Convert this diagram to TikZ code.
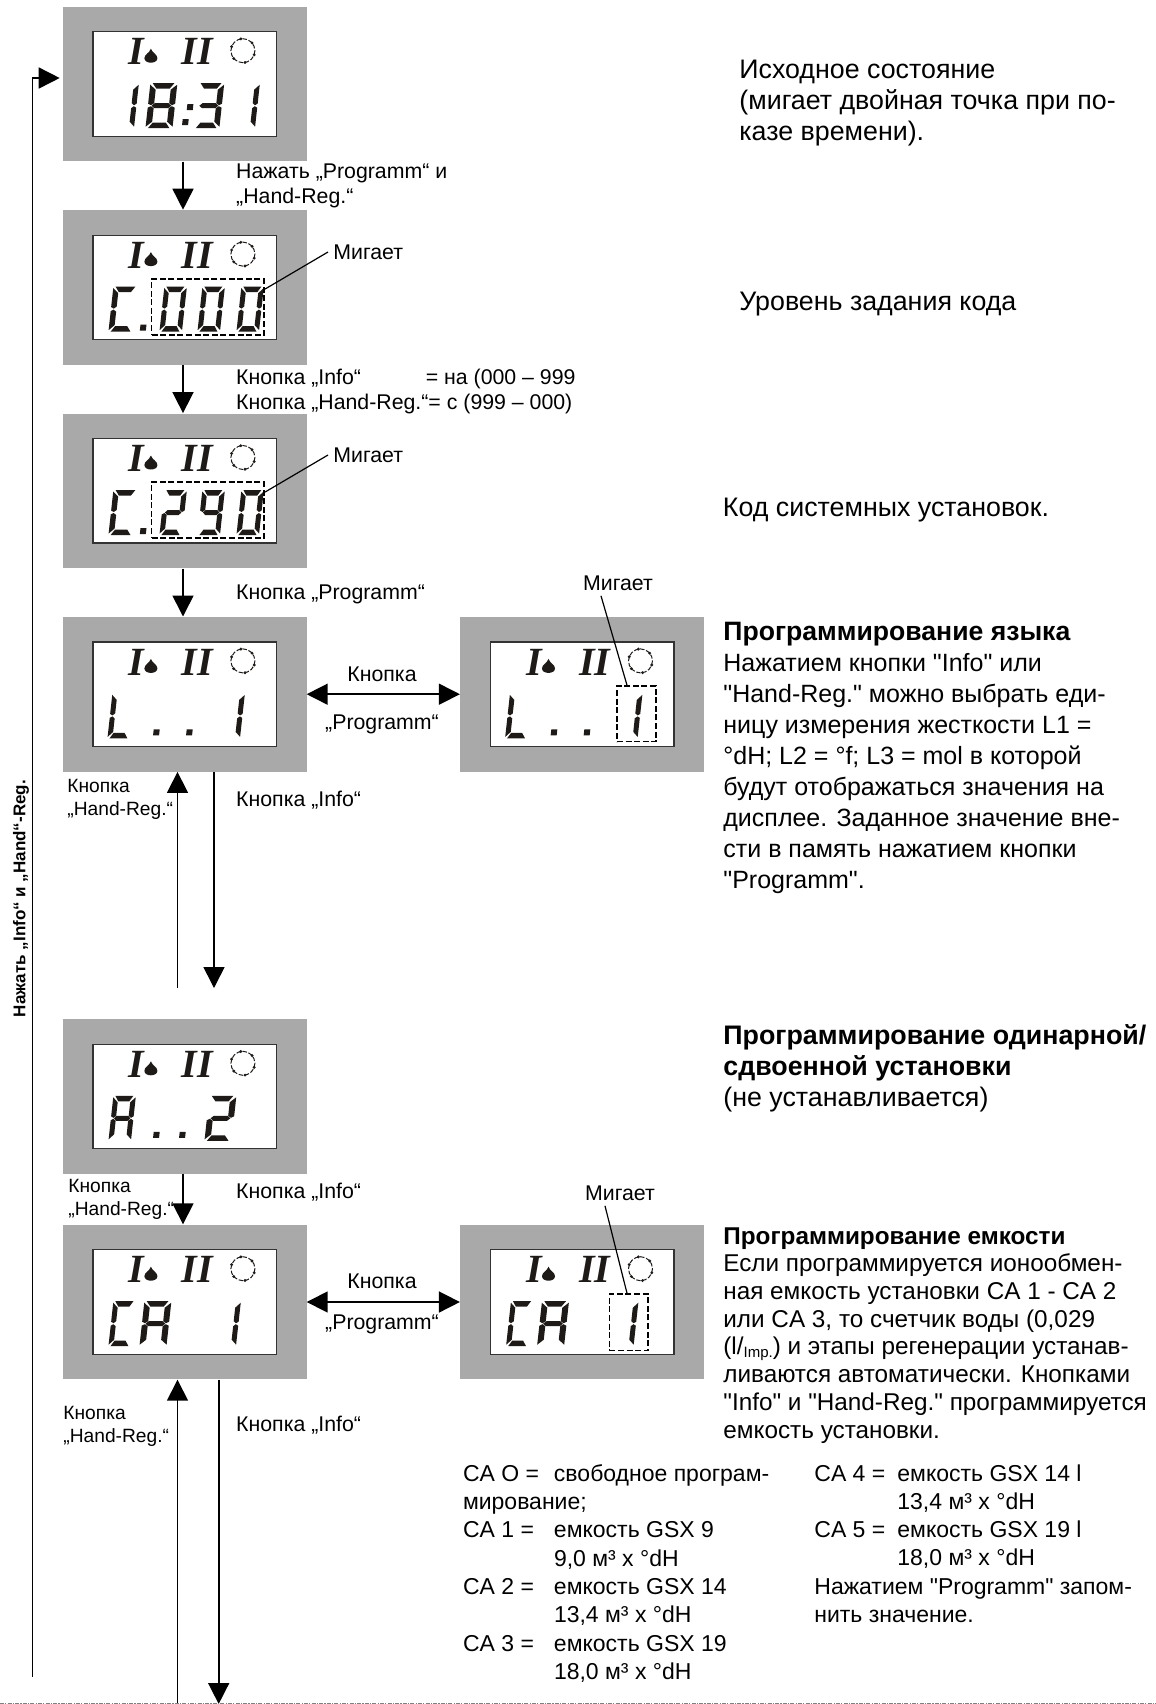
\documentclass[tikz,border=0pt]{standalone}
\usepackage{fontspec}
\newfontfamily\plainsans{Liberation Sans}[Ligatures=Common]
\newfontfamily\lcdserif{Liberation Serif}
\usepackage{tikz}
\usetikzlibrary{positioning, arrows.meta, calc}

\definecolor{panelgray}{HTML}{A9A9A9}
\definecolor{lcdink}{HTML}{1E1A18}

\tikzset{
    sega/.pic={\fill (2,0) -- (20,0) -- (16.5,5.5) -- (5.5,5.5) -- cycle;},
    segb/.pic={\fill (22.5,1.5) -- (22.5,20.5) -- (20,22) -- (17.5,20) -- (17.5,6.5) -- cycle;},
    segc/.pic={\fill (22.5,24.5) -- (22.5,43.5) -- (17.5,38.5) -- (17.5,25) -- (20,23) -- cycle;},
    segd/.pic={\fill (5.5,39.5) -- (16.5,39.5) -- (20,45) -- (2,45) -- cycle;},
    sege/.pic={\fill (0,24.5) -- (2.5,23) -- (5,25) -- (5,38.5) -- (0,43.5) -- cycle;},
    segf/.pic={\fill (0,1.5) -- (5,6.5) -- (5,20) -- (2.5,22) -- (0,20.5) -- cycle;},
    segg/.pic={\fill (3,22.5) -- (5.5,20) -- (17,20) -- (19.5,22.5) -- (17,25) -- (5.5,25) -- cycle;},
}

% one digit of the display: x inside the screen, then its segments
\newcommand{\lcddigit}[3][]{%
  \begin{scope}[shift={(#2,52)}, xslant=0.11, fill=lcdink, #1]
    \foreach \s in {#3} {\pic[transform shape] {seg\s};}
  \end{scope}}
\newcommand{\lcddot}[2]{\fill[lcdink, xslant=0.11] (#1,#2) rectangle ++(6,6);}
% panel contents that are the same everywhere
\newcommand{\lcdicons}{%
  \node[iconlabel] at (44,20.5) {I};
  \fill[lcdink] (58.5,17.5) .. controls (60,22) and (65,23) .. (65,27) .. controls (65,33) and (52,33) .. (52,27) .. controls (52,23) and (57,22) .. (58.5,17.5) -- cycle;
  \node[iconlabel] at (105,20.5) {II};
  \draw[lcdink, line width=0.5pt, dash pattern=on 2.2pt off 0.9pt] (150.5,19.5) circle (12);
  \foreach \a in {20,80,140,200,260,320} {\fill[lcdink] (150.5,19.5) ++(\a:12) circle (1.6);}
}

\begin{document}
\begin{tikzpicture}[
    x=0.5pt, y=-0.5pt,
    panel/.style={rectangle, fill=panelgray, minimum width=122pt, minimum height=77.3pt, inner sep=0},
    screen/.style={rectangle, draw=black!80, line width=0.6pt, fill=white, minimum width=91.7pt, minimum height=52.2pt, inner sep=0},
    blinkbox/.style={rectangle, draw, line width=0.8pt, dash pattern=on 3pt off 1.3pt, inner sep=0},
    iconlabel/.style={font=\lcdserif\bfseries\itshape\fontsize{20}{20}\selectfont, text=lcdink, inner sep=0},
    arrow/.style={-{Triangle[length=10.5pt, width=10.5pt]}, line width=0.8pt},
    dblarrow/.style={{Triangle[length=10.5pt, width=10.5pt]}-{Triangle[length=10.5pt, width=10.5pt]}, line width=0.8pt},
    callout/.style={line width=0.6pt},
    hint/.style={font=\plainsans\fontsize{10.65}{12.5}\selectfont, align=left, inner sep=0, anchor=west},
    tinyhint/.style={font=\plainsans\fontsize{9.6}{11.6}\selectfont, align=left, inner sep=0, anchor=north west},
    blinklabel/.style={font=\plainsans\fontsize{10.65}{12.5}\selectfont, inner sep=2.5pt},
    bigtext/.style={font=\plainsans\fontsize{13.4}{15.5}\selectfont, align=left, inner sep=0, anchor=north west},
    bodytext/.style={font=\plainsans\fontsize{12.5}{15.5}\selectfont, align=left, inner sep=0, anchor=north west},
    midtext/.style={font=\plainsans\fontsize{12.15}{13.85}\selectfont, align=left, inner sep=0, anchor=north west},
    listtext/.style={font=\plainsans\fontsize{11.5}{14.15}\selectfont, align=left, inner sep=0, anchor=north west}
]
\useasboundingbox (0,0) rectangle (1156,1704);

% left column
\node[panel] (p1) at (184.7,84) {};
\node[panel, below=24pt of p1] (p2) {};
\node[panel, below=24pt of p2] (p3) {};
\node[panel, below=24pt of p3] (p4) {};
\node[panel, below=123.5pt of p4] (p5) {};
\node[panel, below=25pt of p5] (p6) {};
\node[panel, right=76.4pt of p4] (p4b) {};
\node[panel, right=76.4pt of p6] (p6b) {};
\foreach \p in {p1,p2,p3,p4,p5,p6,p4b,p6b} {\node[screen] (\p s) at (\p) {};}

% displays
\begin{scope}[shift={(p1s.north west)}]
  \lcdicons
  \lcddigit{24}{b,c}
  \lcddigit[xscale=1.2]{58}{a,b,c,d,e,f,g}
  \lcddot{103}{73}
  \lcddot{100}{88}
  \lcddigit[xscale=1.15]{106}{a,b,c,d,g}
  \lcddigit{145}{b,c}
\end{scope}
\begin{scope}[shift={(p2s.north west)}]
  \lcdicons
  \lcddigit[xscale=1.1]{21}{a,d,e,f}
  \lcddot{58}{90}
  \lcddigit{72}{a,b,c,d,e,f}
  \lcddigit{110}{a,b,c,d,e,f}
  \lcddigit{149}{a,b,c,d,e,f}
\end{scope}
\begin{scope}[shift={(p3s.north west)}]
  \lcdicons
  \lcddigit[xscale=1.1]{21}{a,d,e,f}
  \lcddot{58}{90}
  \lcddigit{72}{a,b,d,e,g}
  \lcddigit{110}{a,b,c,d,f,g}
  \lcddigit{149}{a,b,c,d,e,f}
\end{scope}
\foreach \p in {p4,p4b} {
  \begin{scope}[shift={(\p s.north west)}]
    \lcdicons
    \lcddigit{20}{d,e,f}
    \lcddot{71}{88}
    \lcddot{104}{88}
    \lcddigit{130}{b,c}
  \end{scope}
}
\begin{scope}[shift={(p5s.north west)}]
  \lcdicons
  \lcddigit{21}{a,b,c,e,f,g}
  \lcddot{71}{88}
  \lcddot{97}{88}
  \lcddigit[xscale=1.2]{117}{a,b,d,e,g}
\end{scope}
\foreach \p in {p6,p6b} {
  \begin{scope}[shift={(\p s.north west)}]
    \lcdicons
    \lcddigit{21}{a,d,e,f}
    \lcddigit[xscale=1.2]{52}{a,b,c,e,f,g}
    \lcddigit{126}{b,c}
  \end{scope}
}

% flashing parts
\node[blinkbox, minimum width=56.2pt, minimum height=28pt] (b2) at (207.8,307) {};
\node[blinkbox, minimum width=56.2pt, minimum height=28pt] (b3) at (207.8,510) {};
\node[blinkbox, minimum width=19.5pt, minimum height=27.8pt] (b4) at (636.5,713.8) {};
\node[blinkbox, minimum width=19.3pt, minimum height=28.3pt] (b6) at (628.7,1322.3) {};
\node[blinklabel, anchor=west] (m2) at (328,252) {Мигает};
\node[blinklabel, anchor=west] (m3) at (328,455) {Мигает};
\node[blinklabel] (m4) at (618,583) {Мигает};
\node[blinklabel] (m6) at (620,1193) {Мигает};
\draw[callout] ([yshift=-5.5pt]b2.north east) -- (m2.west);
\draw[callout] ([yshift=-5.5pt]b3.north east) -- (m3.west);
\draw[callout] ([xshift=-8.5pt]m4.south) -- ([xshift=-4.75pt]b4.north);
\draw[callout] ([xshift=-7.5pt]m6.south) -- ([xshift=-0.85pt]b6.north);

% connectors
\draw[arrow] ([xshift=-0.85pt]p1.south) -- ([xshift=-0.85pt]p2.north);
\draw[arrow] ([xshift=-0.85pt]p2.south) -- ([xshift=-0.85pt]p3.north);
\draw[arrow] ([xshift=-0.85pt]p3.south) -- ([xshift=-0.85pt]p4.north);
\draw[arrow] ([xshift=-0.85pt]p5.south) -- ([xshift=-0.85pt]p6.north);
\draw[dblarrow] (p4) ++(61pt,0) coordinate (p4e) (p4e) -- (p4e -| p4b.west);
\draw[dblarrow] (p6) ++(61pt,0) coordinate (p6e) (p6e) -- (p6e -| p6b.west);
\coordinate (upfour) at (177.5,988);
\coordinate (downfour) at (214,988);
\coordinate (upsix) at (177.5,1704);
\coordinate (downsix) at (218.7,1704);
\coordinate (backstart) at (32.5,1677);
\draw[arrow] (upfour) -- (upfour |- p4.south);
\draw[arrow] (downfour |- p4.south) -- (downfour);
\draw[arrow] (upsix) -- (upsix |- p6.south);
\draw[arrow] (downsix |- p6.south) -- (downsix);
\draw[arrow, shorten >=1.3pt] (backstart) |- ([yshift=3pt]p1.west);

% bottom edge of the page
\coordinate (edgeleft) at (0,1703);
\coordinate (edgeright) at (1156,1703);
\draw[gray, line width=0.4pt, dash pattern=on 2pt off 0.6pt on 0.6pt off 0.6pt] (edgeleft) -- (edgeright);

% button hints
\node[font=\plainsans\bfseries\fontsize{8.5}{11}\selectfont, rotate=90, inner sep=0] (backlabel) at (21,898.5) {Нажать „Info“ и „Hand“-Reg.};
\node[hint, anchor=north west] (h1) at (235.8,163.5) {Нажать „Programm“ и\\„Hand-Reg.“};
\node[hint, anchor=north west] (h2) at (235.8,369) {Кнопка „Info“\hspace{32.4pt}= на (000 – 999\\Кнопка „Hand-Reg.“= с (999 – 000)};
\node[hint] (h3) at (235.8,594) {Кнопка „Programm“};
\node[hint, anchor=center] (h4a) at (382,674) {Кнопка};
\node[hint, anchor=center] (h4b) at (382,724) {„Programm“};
\node[tinyhint] (h5) at (67,779) {Кнопка\\„Hand-Reg.“};
\node[hint] (h6) at (235.8,800) {Кнопка „Info“};
\node[tinyhint] (h7) at (68,1179) {Кнопка\\„Hand-Reg.“};
\node[hint] (h8) at (235.8,1192) {Кнопка „Info“};
\node[hint, anchor=center] (h9a) at (382,1281) {Кнопка};
\node[hint, anchor=center] (h9b) at (382,1324) {„Programm“};
\node[tinyhint] (h10) at (63,1406) {Кнопка\\„Hand-Reg.“};
\node[hint] (h11) at (235.8,1425) {Кнопка „Info“};

% explanations on the right
\node[bigtext] (t1) at (739,60) {Исходное состояние\\(мигает двойная точка при по-\\казе времени).};
\node[bigtext] (t2) at (739,292) {Уровень задания кода};
\node[bigtext] (t3) at (722.5,498) {Код системных установок.};
\node[bodytext] (t4) at (723,622) {{\fontsize{13.3}{15.5}\selectfont\textbf{Программирование языка}}\\Нажатием кнопки "Info" или\\"Hand-Reg." можно выбрать еди-\\ницу измерения жесткости L1 =\\°dH; L2 = °f; L3 = mol в которой\\будут отображаться значения на\\дисплее. Заданное значение вне-\\сти в память нажатием кнопки\\"Programm".};
\node[bigtext] (t5) at (723,1024) {\textbf{Программирование одинарной/}\\\textbf{сдвоенной установки}\\(не устанавливается)};
\node[midtext] (t6) at (723,1227) {\textbf{Программирование емкости}\\Если программируется ионообмен-\\ная емкость установки CA 1 - CA 2\\или CA 3, то счетчик воды (0,029\\(l/\raisebox{-1.5pt}{\fontsize{7.5}{9}\selectfont Imp.}) и этапы регенерации устанав-\\ливаются автоматически. Кнопками\\"Info" и "Hand-Reg." программируется\\емкость установки.};
\node[listtext] (t7) at (462.6,1464) {\makebox[45.5pt][l]{CA O =}свободное програм-\\мирование;\\\makebox[45.5pt][l]{CA 1 =}емкость GSX 9\\\hspace*{45.5pt}9,0 м³ x °dH\\\makebox[45.5pt][l]{CA 2 =}емкость GSX 14\\\hspace*{45.5pt}13,4 м³ x °dH\\\makebox[45.5pt][l]{CA 3 =}емкость GSX 19\\\hspace*{45.5pt}18,0 м³ x °dH};
\node[listtext] (t8) at (814,1464) {\makebox[41.5pt][l]{CA 4 =}емкость GSX 14 l\\\hspace*{41.5pt}13,4 м³ x °dH\\\makebox[41.5pt][l]{CA 5 =}емкость GSX 19 l\\\hspace*{41.5pt}18,0 м³ x °dH\\Нажатием "Programm" запом-\\нить значение.};
\end{tikzpicture}
\end{document}
